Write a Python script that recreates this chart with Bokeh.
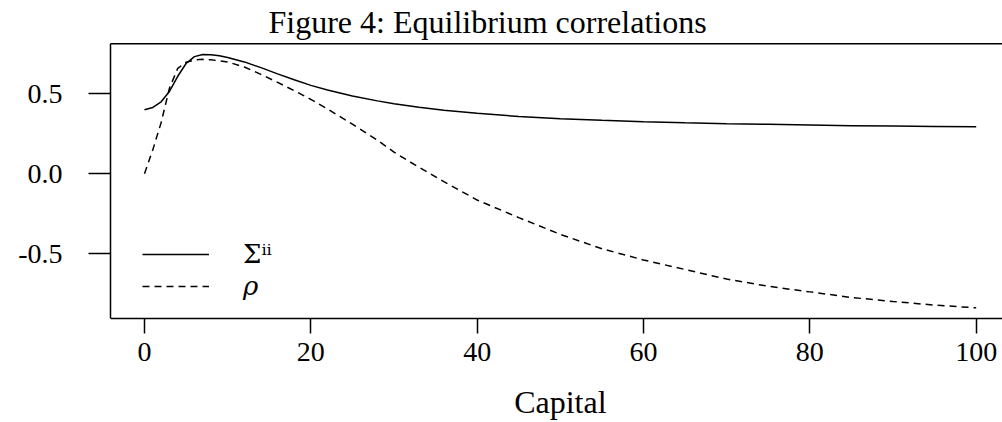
from bokeh.plotting import figure
from bokeh.models import (Range1d, FixedTicker, Legend, LegendItem, Label, Span,
                          NumeralTickFormatter)
from bokeh.embed import file_html
from bokeh.resources import INLINE

# ---- data ----
capital = [0, 1, 2, 3, 4, 5, 6, 7, 8, 9, 10, 12, 14, 16, 18, 20, 22, 25, 28, 30,
           33, 36, 40, 45, 50, 55, 60, 65, 70, 75, 80, 85, 90, 95, 100]
sigma_ii = [0.400, 0.415, 0.450, 0.515, 0.610, 0.690, 0.733, 0.746, 0.745, 0.738,
            0.728, 0.700, 0.664, 0.625, 0.588, 0.553, 0.524, 0.487, 0.456, 0.438,
            0.416, 0.398, 0.378, 0.358, 0.344, 0.334, 0.326, 0.319, 0.313, 0.309,
            0.305, 0.301, 0.298, 0.296, 0.294]
rho = [0.000, 0.150, 0.320, 0.535, 0.660, 0.698, 0.712, 0.716, 0.713, 0.707,
       0.700, 0.668, 0.622, 0.572, 0.520, 0.465, 0.405, 0.310, 0.210, 0.135,
       0.040, -0.050, -0.165, -0.275, -0.380, -0.470, -0.540, -0.600, -0.660,
       -0.705, -0.740, -0.775, -0.800, -0.823, -0.840]
x_ticks = [0, 20, 40, 60, 80, 100]
y_ticks = [-0.5, 0.0, 0.5]
title_text = "Figure 4: Equilibrium correlations"
x_label = "Capital"
series_labels = ["Σⁱⁱ", "ρ"]

# plotting box in data units (bottom and top edges of the box)
BOX_Y = (-0.908, 0.814)

FONT = "Liberation Serif"
W, H = 1002, 422
FRAME_LEFT = 110
PX_PER_X = 8.317
ZERO_X = 144.0    # pixel column of x=0
PX_PER_Y = 159.7
ZERO_Y = 173.2    # pixel row of y=0

p = figure(width=W, height=H, output_backend="svg", toolbar_location=None,
           x_range=Range1d(-(ZERO_X - FRAME_LEFT) / PX_PER_X, (W - ZERO_X) / PX_PER_X),
           y_range=Range1d(-(H - ZERO_Y) / PX_PER_Y, ZERO_Y / PX_PER_Y),
           min_border_left=FRAME_LEFT, min_border_right=0, min_border_top=0,
           min_border_bottom=0)
p.grid.visible = False
p.outline_line_color = None
p.background_fill_color = "white"
p.border_fill_color = "white"

xa = p.below[0]
xa.fixed_location = BOX_Y[0]
xa.ticker = FixedTicker(ticks=x_ticks)
xa.major_label_text_font = FONT
xa.major_label_text_font_size = "28px"
xa.major_label_text_color = "black"
xa.major_label_standoff = 9
xa.major_tick_out = 15
xa.major_tick_in = 0
xa.minor_tick_out = 0
xa.minor_tick_in = 0
xa.axis_line_width = 1.5
xa.major_tick_line_width = 1.5
xa.axis_line_color = "black"
xa.major_tick_line_color = "black"

ya = p.left[0]
ya.bounds = BOX_Y
ya.ticker = FixedTicker(ticks=y_ticks)
ya.formatter = NumeralTickFormatter(format="0.0")
ya.major_label_text_font = FONT
ya.major_label_text_font_size = "28px"
ya.major_label_text_color = "black"
ya.major_label_standoff = 26
ya.major_tick_out = 22
ya.major_tick_in = 0
ya.minor_tick_out = 0
ya.minor_tick_in = 0
ya.axis_line_width = 1.5
ya.major_tick_line_width = 1.5
ya.axis_line_color = "black"
ya.major_tick_line_color = "black"

# top edge of the box
p.add_layout(Span(location=BOX_Y[1], dimension="width", line_color="black",
                  line_width=1.5))

# title and x-axis label (screen units measured from the frame's bottom-left)
p.add_layout(Label(x=158, y=H - 21, x_units="screen", y_units="screen",
                   text=title_text, text_font=FONT, text_font_size="32px",
                   text_color="black", text_align="left", text_baseline="alphabetic"))
p.add_layout(Label(x=50, y=H - 401, x_units="data", y_units="screen",
                   text=x_label, text_font=FONT, text_font_size="32px",
                   text_color="black", text_align="center", text_baseline="alphabetic"))

r1 = p.line(capital, sigma_ii, line_color="black", line_width=1.5)
r2 = p.line(capital, rho, line_color="black", line_width=1.5, line_dash="7 5")

common = dict(glyph_width=67, glyph_height=30, label_height=30, spacing=0,
              padding=0, margin=0, label_standoff=34, border_line_color=None,
              background_fill_alpha=0, label_text_font="DejaVu Serif",
              label_text_font_size="26px", label_text_color="black")
legend_sigma = Legend(items=[LegendItem(label=series_labels[0], renderers=[r1])],
                      location=(32, H - 269), label_text_font_style="normal", **common)
legend_rho = Legend(items=[LegendItem(label=series_labels[1], renderers=[r2])],
                    location=(32, H - 301), label_text_font_style="italic", **common)
p.add_layout(legend_sigma)
p.add_layout(legend_rho)

open("out.html", "w").write(file_html(p, INLINE))
